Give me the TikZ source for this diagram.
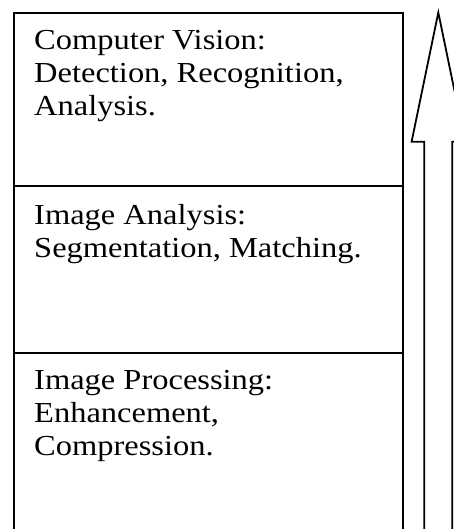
\documentclass[tikz,border=0pt]{standalone}
\usepackage{fontspec}
\setmainfont{Liberation Serif}[FakeStretch=1.12]
\begin{document}
\begin{tikzpicture}[x=1pt,y=-1pt,
  layerbox/.style={draw,line width=1.8pt,minimum width=389pt,inner sep=0pt,anchor=north west},
  layertext/.style={anchor=base west,inner sep=0pt,font=\fontsize{29pt}{33pt}\selectfont},
  outline/.style={draw,line width=1.8pt,line join=miter}]
\useasboundingbox (0,0) rectangle (454,529);
\node[layerbox,minimum height=173pt] (cv) at (13,12) {};
\node[layerbox,minimum height=167pt] (ia) at (13,185) {};
\node[layerbox,minimum height=200pt] (ip) at (13,352) {};
\node[layertext] (cvt) at (34,49.5) {\begin{tabular}[t]{@{}l@{}}Computer Vision:\\Detection, Recognition,\\Analysis.\end{tabular}};
\node[layertext] (iat) at (34,224.5) {\begin{tabular}[t]{@{}l@{}}Image Analysis:\\Segmentation, Matching.\end{tabular}};
\node[layertext] (ipt) at (34,389.5) {\begin{tabular}[t]{@{}l@{}}Image Processing:\\Enhancement,\\Compression.\end{tabular}};
\coordinate (tip) at (438.3,12.5);
\draw[outline] (424.3,560) -- (424.3,141.7) -- (411.6,141.7) -- (tip) -- (465,141.7) -- (452.3,141.7) -- (452.3,560);
\end{tikzpicture}
\end{document}
